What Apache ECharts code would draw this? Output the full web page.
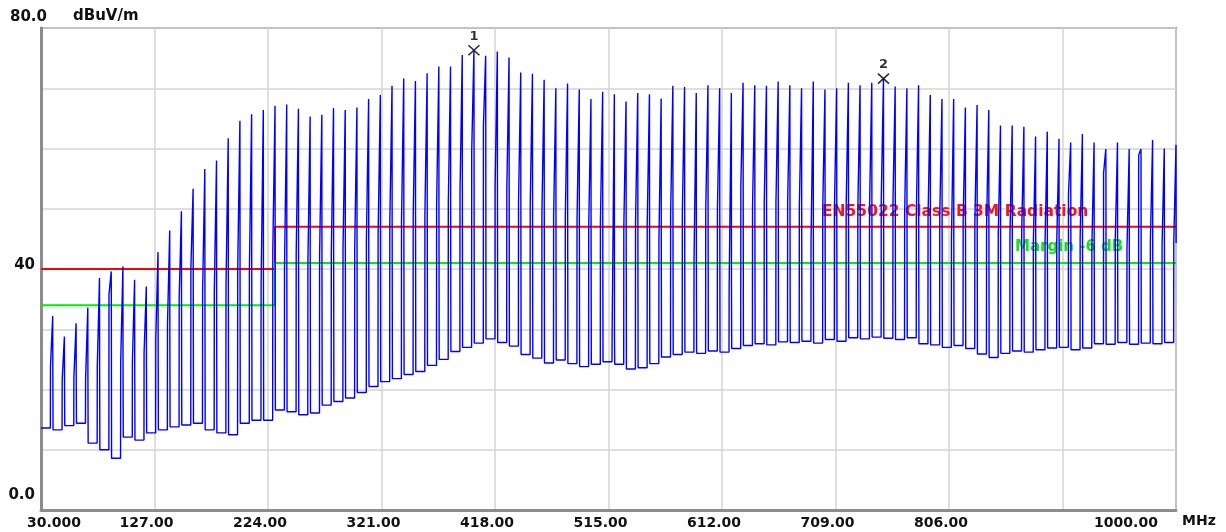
<!DOCTYPE html>
<html>
<head>
<meta charset="utf-8">
<script src="https://cdn.jsdelivr.net/npm/echarts@6/dist/echarts.min.js"></script>
<style>
  html, body { margin: 0; padding: 0; background: #fff; }
  #chart { width: 1226px; height: 532px; }
</style>
</head>
<body>
<div id="chart"></div>
<script>
// 频谱尖峰的频率 (MHz)
const spikeFreq = [40, 50, 60, 70, 80, 90, 100, 110, 120, 130, 140, 150, 160, 170, 180, 190, 200, 210, 220, 230,
  240, 250, 260, 270, 280, 290, 300, 310, 320, 330, 340, 350, 360, 370, 380, 390, 400, 410, 420, 430,
  440, 450, 460, 470, 480, 490, 500, 510, 520, 530, 540, 550, 560, 570, 580, 590, 600, 610, 620, 630,
  640, 650, 660, 670, 680, 690, 700, 710, 720, 730, 740, 750, 760, 770, 780, 790, 800, 810, 820, 830,
  840, 850, 860, 870, 880, 890, 900, 910, 920, 930, 940, 950, 960, 970, 980, 990, 1000]
// 尖峰峰值 (dBuV/m)
const spikePeak = [32.2, 28.8, 31.0, 33.6, 38.5, 39.6, 40.4, 38.2, 37.1, 42.8, 46.4, 49.6, 53.3, 56.6, 58.0, 61.7, 64.6, 65.7, 66.4, 67.1,
  67.3, 66.6, 65.3, 65.6, 66.7, 66.4, 66.8, 68.2, 68.9, 70.4, 71.6, 71.2, 72.5, 73.6, 73.6, 75.5, 76.3, 75.4, 76.1, 75.1,
  72.6, 72.4, 71.4, 70.0, 70.8, 69.8, 68.2, 69.4, 69.0, 67.8, 69.2, 69.0, 68.3, 70.4, 70.2, 69.2, 70.5, 70.0, 69.2, 70.9,
  70.5, 70.4, 71.1, 70.5, 70.0, 71.1, 69.8, 70.0, 70.9, 70.5, 70.9, 71.6, 70.3, 70.0, 70.5, 68.9, 68.2, 68.2, 66.8, 67.2,
  66.4, 63.8, 63.8, 63.6, 62.0, 62.8, 61.6, 61.0, 62.4, 61.0, 59.9, 61.0, 59.9, 59.9, 61.4, 60.0, 60.6]
// 尖峰下部（加粗部分）的电平
const spikeSide = [23.8, 21.6, 21.9, 21.6, 23.8, 35.7, 24.4, 24.4, 26.0, 28.2, 30.7, 35.2, 40.2, 36.0, 36.0, 37.0, 39.8, 39.8, 37.3, 42.9,
  40.0, 42.6, 41.0, 42.3, 42.5, 43.1, 43.1, 44.8, 45.6, 47.6, 47.9, 48.7, 49.0, 50.3, 50.9, 52.6, 59.5, 63.6, 53.7, 53.1,
  50.9, 50.6, 49.3, 48.7, 48.7, 48.1, 47.0, 47.9, 29.4, 47.0, 47.6, 47.6, 44.8, 49.0, 49.2, 41.5, 49.5, 49.8, 36.8, 53.7,
  50.3, 50.9, 50.9, 50.9, 50.3, 44.5, 50.0, 50.3, 50.3, 50.3, 50.3, 51.5, 50.9, 49.2, 49.2, 48.7, 48.7, 44.8, 47.9, 47.6,
  47.0, 45.6, 45.6, 45.9, 44.3, 44.5, 44.5, 52.3, 45.4, 43.7, 55.9, 44.8, 43.4, 58.9, 44.5, 44.0, 44.3]
// 噪声底（每个尖峰左侧间隙），最后一个为末端
const floorLevel = [13.6, 13.3, 14.0, 14.4, 11.1, 10.0, 8.6, 12.1, 11.6, 12.8, 13.3, 13.8, 14.1, 14.4, 13.3, 12.8, 12.5, 14.4, 14.9, 14.9,
  16.6, 16.3, 15.8, 16.1, 17.4, 18.0, 18.6, 19.5, 20.5, 21.3, 21.8, 22.5, 23.0, 24.0, 25.0, 26.3, 27.0, 27.7, 28.4, 27.8,
  27.2, 25.8, 25.2, 24.4, 24.9, 24.3, 23.8, 24.2, 24.6, 24.2, 23.4, 23.6, 24.3, 25.4, 25.8, 26.2, 26.0, 26.4, 26.2, 26.8,
  27.3, 27.6, 27.4, 27.9, 27.8, 28.0, 27.7, 28.3, 28.0, 28.6, 28.4, 28.7, 28.5, 28.3, 28.6, 27.6, 27.4, 27.0, 27.3, 26.8,
  25.9, 25.3, 26.0, 26.4, 26.2, 26.6, 26.9, 27.0, 26.6, 26.9, 27.6, 27.5, 27.8, 27.5, 27.7, 27.6, 27.8]

// EN55022 Class B 限值与 -6dB 裕量
const limitFreq = [30, 230, 230, 1000]
const limitLevel = [40, 40, 47, 47]
const marginLevel = [34, 34, 41, 41]

// 标记点
const markerFreq = [400, 750]
const markerLevel = [76.3, 71.6]
const markerName = ['1', '2']

// 刻度标签
const xTickLabels = ['30.000', '127.00', '224.00', '321.00', '418.00', '515.00', '612.00', '709.00', '806.00', '', '1000.00']
const yTickValues = [0, 40, 80]
const yTickLabels = ['0.0', '40', '80.0']

const FONT = 'DejaVu Sans'

// 拼出扫描曲线：下部为双线（上升沿+下降沿），上部为单线
const trace = [[30, floorLevel[0]]]
spikeFreq.forEach((f, i) => {
  trace.push([f - 2.0, floorLevel[i]])
  trace.push([f - 1.9, spikeSide[i]])
  trace.push([f, spikePeak[i]])
  trace.push([f + 0.1, spikeSide[i]])
  trace.push([f + 0.3, floorLevel[i + 1]])
})

const labelFont = { fontFamily: FONT, fontWeight: 'bold', color: '#111' }

const option = {
  animation: false,
  backgroundColor: '#fff',
  textStyle: { fontFamily: FONT },
  grid: {
    left: 41, right: 50, top: 28, bottom: 22,
    show: true, borderColor: '#8c8c8c', borderWidth: 2
  },
  xAxis: {
    type: 'value',
    min: 30, max: 1000, interval: 97,
    name: 'MHz',
    nameLocation: 'end',
    nameGap: 6,
    nameTextStyle: Object.assign({ fontSize: 14, verticalAlign: 'top', padding: [4, 0, 0, 0] }, labelFont),
    axisLine: { show: true, lineStyle: { color: '#8c8c8c', width: 3 } },
    axisTick: { show: false },
    splitLine: { show: true, lineStyle: { color: '#d4d4d4', width: 1.5 } },
    axisLabel: Object.assign({
      margin: 6,
      fontSize: 14,
      showMinLabel: true, showMaxLabel: true,
      formatter: function (v) {
        const k = Math.round((v - 30) / 97)
        const t = xTickLabels[k]
        if (!t) return ''
        const key = k === 0 ? 'first' : (k === xTickLabels.length - 1 ? 'last' : 'mid')
        return '{' + key + '|' + t + '}'
      },
      rich: {
        first: Object.assign({ fontSize: 14, padding: [0, 0, 0, 26] }, labelFont),
        mid: Object.assign({ fontSize: 14, padding: [0, 16, 0, 0] }, labelFont),
        last: Object.assign({ fontSize: 14, padding: [0, 100, 0, 0] }, labelFont)
      }
    }, labelFont)
  },
  yAxis: {
    type: 'value',
    min: 0, max: 80, interval: 10,
    name: 'dBuV/m',
    nameLocation: 'end',
    nameGap: 4,
    nameTextStyle: Object.assign({ fontSize: 15, align: 'left', padding: [0, 0, 0, 32] }, labelFont),
    axisLine: { show: true, lineStyle: { color: '#8c8c8c', width: 3 } },
    axisTick: { show: false },
    splitLine: { show: true, lineStyle: { color: '#d4d4d4', width: 1.5 } },
    axisLabel: Object.assign({
      margin: -6,
      fontSize: 15,
      formatter: function (v) {
        const k = yTickValues.indexOf(v)
        if (k < 0) return ''
        const key = k === 0 ? 'bot' : (k === 1 ? 'mid' : 'top')
        return '{' + key + '|' + yTickLabels[k] + '}'
      },
      rich: {
        top: Object.assign({ fontSize: 15, padding: [0, 0, 22, 0] }, labelFont),
        mid: Object.assign({ fontSize: 15, padding: [0, 12, 8, 0] }, labelFont),
        bot: Object.assign({ fontSize: 15, padding: [0, 12, 30, 0] }, labelFont)
      }
    }, labelFont)
  },
  graphic: [
    {
      type: 'text', x: 822, y: 212, z: 1,
      style: { text: 'EN55022 Class B 3M Radiation', fill: '#f01818', font: 'bold 15.5px "DejaVu Sans"', verticalAlign: 'middle' }
    },
    {
      type: 'text', x: 1015, y: 247, z: 1,
      style: { text: 'Margin -6 dB', fill: '#18e018', font: 'bold 15px "DejaVu Sans"', verticalAlign: 'middle' }
    }
  ],
  series: [
    {
      name: 'limit',
      type: 'line',
      z: 2,
      silent: true,
      symbol: 'none',
      data: limitFreq.map((f, i) => [f, limitLevel[i]]),
      lineStyle: { color: '#ff0000', width: 2 }
    },
    {
      name: 'margin',
      type: 'line',
      z: 2,
      silent: true,
      symbol: 'none',
      data: limitFreq.map((f, i) => [f, marginLevel[i]]),
      lineStyle: { color: '#00ee00', width: 2 }
    },
    {
      name: 'trace',
      type: 'line',
      z: 3,
      silent: true,
      symbol: 'none',
      sampling: null,
      data: trace,
      lineStyle: { color: '#0000ff', width: 1.4 }
    },
    {
      name: 'marker',
      type: 'scatter',
      z: 4,
      silent: true,
      symbol: 'path://M0,0L10,10M10,0L0,10',
      symbolSize: [11, 10],
      itemStyle: { color: 'none', borderColor: '#000', borderWidth: 1.6 },
      data: markerFreq.map((f, i) => [f, markerLevel[i]]),
      label: {
        show: true,
        position: 'top',
        distance: 0,
        formatter: p => markerName[p.dataIndex],
        fontFamily: FONT, fontWeight: 'bold', fontSize: 13, color: '#000'
      }
    }
  ]
}

const myChart = echarts.init(document.getElementById('chart'))
myChart.setOption(option)
</script>
</body>
</html>
